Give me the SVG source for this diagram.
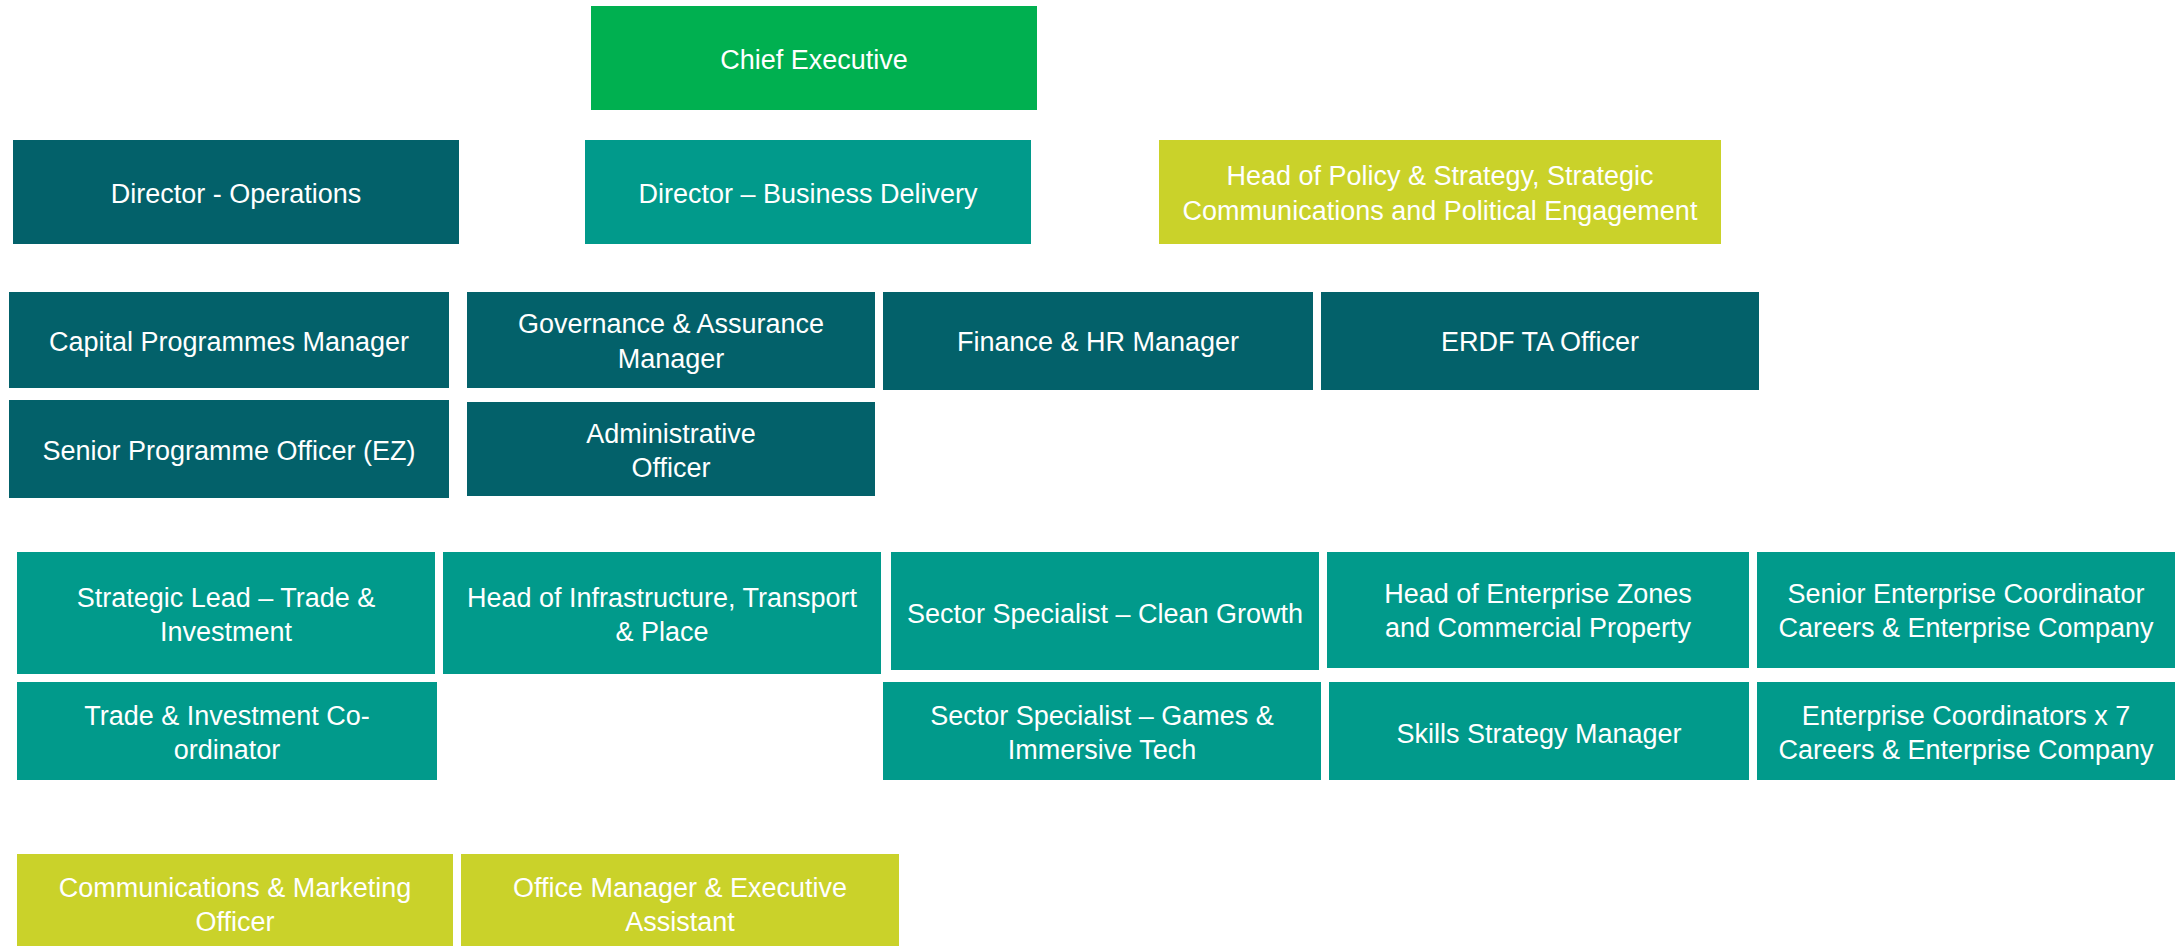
<svg xmlns="http://www.w3.org/2000/svg" width="2182" height="946" viewBox="0 0 2182 946">
<style>
.dark{fill:#03616A}
.teal{fill:#019A8B}
.green{fill:#00B050}
.lime{fill:#CAD22A}
text{font-family:"Liberation Sans",Arial,sans-serif;font-size:27px;fill:#FFFFFF;text-anchor:middle}
</style>
<rect width="2182" height="946" fill="#FFFFFF"/>
<g id="connectors"/>
<g id="chief-executive"><rect class="green" x="591" y="6" width="446" height="104"/><text x="814" y="69">Chief Executive</text></g>
<g id="director-operations"><rect class="dark" x="13" y="140" width="446" height="104"/><text x="236" y="203">Director - Operations</text></g>
<g id="director-business-delivery"><rect class="teal" x="585" y="140" width="446" height="104"/><text x="808" y="203">Director – Business Delivery</text></g>
<g id="head-policy"><rect class="lime" x="1159" y="140" width="562" height="104"/><text x="1440" y="185">Head of Policy &amp; Strategy, Strategic</text><text x="1440" y="220">Communications and Political Engagement</text></g>
<g id="capital-programmes"><rect class="dark" x="9" y="292" width="440" height="96"/><text x="229" y="351">Capital Programmes Manager</text></g>
<g id="governance"><rect class="dark" x="467" y="292" width="408" height="96"/><text x="671" y="333">Governance &amp; Assurance</text><text x="671" y="368">Manager</text></g>
<g id="finance-hr"><rect class="dark" x="883" y="292" width="430" height="98"/><text x="1098" y="351">Finance &amp; HR Manager</text></g>
<g id="erdf"><rect class="dark" x="1321" y="292" width="438" height="98"/><text x="1540" y="351">ERDF TA Officer</text></g>
<g id="senior-programme-officer"><rect class="dark" x="9" y="400" width="440" height="98"/><text x="229" y="460">Senior Programme Officer (EZ)</text></g>
<g id="administrative-officer"><rect class="dark" x="467" y="402" width="408" height="94"/><text x="671" y="443">Administrative</text><text x="671" y="477">Officer</text></g>
<g id="strategic-lead"><rect class="teal" x="17" y="552" width="418" height="122"/><text x="226" y="607">Strategic Lead – Trade &amp;</text><text x="226" y="641">Investment</text></g>
<g id="head-infrastructure"><rect class="teal" x="443" y="552" width="438" height="122"/><text x="662" y="607">Head of Infrastructure, Transport</text><text x="662" y="641">&amp; Place</text></g>
<g id="clean-growth"><rect class="teal" x="891" y="552" width="428" height="118"/><text x="1105" y="623">Sector Specialist – Clean Growth</text></g>
<g id="enterprise-zones"><rect class="teal" x="1327" y="552" width="422" height="116"/><text x="1538" y="603">Head of Enterprise Zones</text><text x="1538" y="637">and Commercial Property</text></g>
<g id="senior-enterprise-coordinator"><rect class="teal" x="1757" y="552" width="418" height="116"/><text x="1966" y="603">Senior Enterprise Coordinator</text><text x="1966" y="637">Careers &amp; Enterprise Company</text></g>
<g id="trade-coordinator"><rect class="teal" x="17" y="682" width="420" height="98"/><text x="227" y="725">Trade &amp; Investment Co-</text><text x="227" y="759">ordinator</text></g>
<g id="games-immersive"><rect class="teal" x="883" y="682" width="438" height="98"/><text x="1102" y="725">Sector Specialist – Games &amp;</text><text x="1102" y="759">Immersive Tech</text></g>
<g id="skills-strategy"><rect class="teal" x="1329" y="682" width="420" height="98"/><text x="1539" y="743">Skills Strategy Manager</text></g>
<g id="enterprise-coordinators"><rect class="teal" x="1757" y="682" width="418" height="98"/><text x="1966" y="725">Enterprise Coordinators x 7</text><text x="1966" y="759">Careers &amp; Enterprise Company</text></g>
<g id="communications-marketing"><rect class="lime" x="17" y="854" width="436" height="98"/><text x="235" y="897">Communications &amp; Marketing</text><text x="235" y="931">Officer</text></g>
<g id="office-manager"><rect class="lime" x="461" y="854" width="438" height="98"/><text x="680" y="897">Office Manager &amp; Executive</text><text x="680" y="931">Assistant</text></g>
</svg>
